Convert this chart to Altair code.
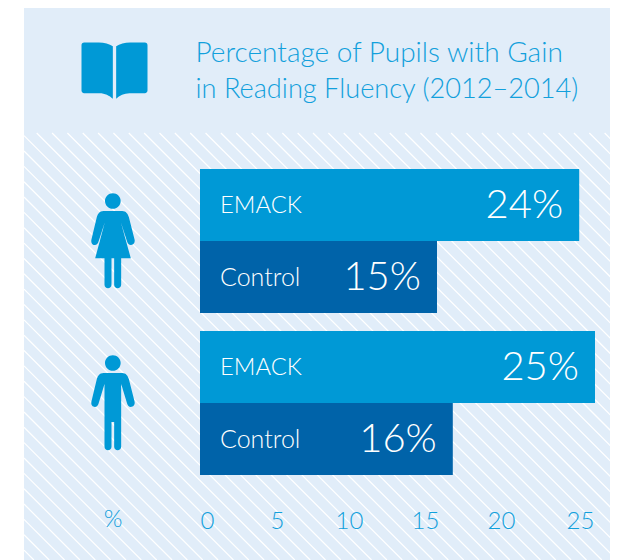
import re
import altair as alt
import pandas as pd

# ---- chart values ----
groups = ["Female", "Male"]
programs = ["EMACK", "Control"]
row_group = ["Female", "Female", "Male", "Male"]
row_program = ["EMACK", "Control", "EMACK", "Control"]
row_value = [24, 15, 25, 16]
row_label = ["24%", "15%", "25%", "16%"]
bar_colors = ["#0099d6", "#0063a9"]
tick_values = [0, 5, 10, 15, 20, 25]
title_lines = ["Percentage of Pupils with Gain", "in Reading Fluency (2012\u20132014)"]

BG = "#e1edf9"
BLUE = "#0099d6"
TEXT_BLUE = "#12a0dc"
FONT = "Lato"
W, H = 602, 552

rows = pd.DataFrame({"group": row_group, "program": row_program,
                     "value": row_value, "label": row_label})
one = pd.DataFrame({"a": [0]})


def unit_path(path, cx, cy, k):
    """Rescale an SVG path drawn in picture units to Vega's -1..1 symbol box."""
    toks = re.findall(r"[MLCQZ]|-?\d+\.?\d*", path)
    out, is_x = [], True
    for t in toks:
        if t in "MLCQZ":
            out.append(t)
            is_x = True
        else:
            v = (float(t) - cx) / k if is_x else (float(t) - cy) / k
            out.append(f"{v:.4f}")
            is_x = not is_x
    return " ".join(out)


def circle(cx, cy, r):
    m = 0.5523 * r
    return (f"M{cx-r},{cy} C{cx-r},{cy-m} {cx-m},{cy-r} {cx},{cy-r} "
            f"C{cx+m},{cy-r} {cx+r},{cy-m} {cx+r},{cy} "
            f"C{cx+r},{cy+m} {cx+m},{cy+r} {cx},{cy+r} "
            f"C{cx-m},{cy+r} {cx-r},{cy+m} {cx-r},{cy} Z ")


def leg(x0, x1, y0, y1):
    r = (x1 - x0) / 2
    return (f"M{x0},{y0} L{x1},{y0} L{x1},{y1-r} "
            f"C{x1},{y1+r*0.33} {x0},{y1+r*0.33} {x0},{y1-r} Z ")


# outlines are traced in 3x zoom pixels
woman = (
    circle(158, 63, 23.5)
    + "M130,93 L186,93 C198,93 203,102 206,111 L223,178 C226,190 218,195 212,195 "
      "C206,195 203,190 201,185 L182,127 L212,235 L105,235 L134,127 L115,185 "
      "C113,190 110,195 104,195 C98,195 91,190 94,178 L110,111 C113,102 118,93 130,93 Z "
    + leg(133, 154, 233, 325) + leg(162, 183, 233, 325)
)
man = (
    circle(158, 63, 23.5)
    + "M130,93 L186,93 C198,93 203,102 206,111 L223,178 C226,190 218,195 212,195 "
      "C206,195 203,190 201,185 L183,126 L183,240 L133,240 L133,126 L115,185 "
      "C113,190 110,195 104,195 C98,195 91,190 94,178 L110,111 C113,102 118,93 130,93 Z "
    + leg(133, 154, 232, 325) + leg(162, 183, 232, 325)
)
book = (
    "M252,127 L296,127 C312,127 328,132 338,138 L338,296 C328,286 314,279 298,279 "
    "L252,279 C247,279 244,275 244,271 L244,135 C244,130 247,127 252,127 Z "
    "M348,138 C358,132 374,127 390,127 L434,127 C439,127 442,130 442,135 L442,271 "
    "C442,275 439,279 434,279 L388,279 C372,279 358,286 348,296 Z"
)

# hatch: white diagonal strokes over the lower panel
TOP = 125
LEFT = 16
SLOPE = 1.0
hatch = []
for k in range(-35, 42):
    c = 28.7 + 15.35 * k
    x0, y0 = c, TOP
    if x0 < LEFT:
        y0 = TOP + (LEFT - x0) * SLOPE
        x0 = LEFT
    if y0 > H:
        continue
    hatch.append({"x": x0, "y": y0, "x2": c + (H - TOP) / SLOPE, "y2": H})
hatch = pd.DataFrame(hatch)

xs = alt.Scale(domain=[0, 25], range=[192, 587])
ys = alt.Scale(domain=groups, range=[161, 467], paddingInner=0.111, paddingOuter=0)
yo = alt.Scale(domain=programs, paddingInner=0, paddingOuter=0)
X = alt.X("value:Q", scale=xs, axis=None)
Y = alt.Y("group:N", scale=ys, axis=None)
YO = alt.YOffset("program:N", scale=yo)

panel = alt.Chart(one).mark_rect(color=BG).encode(
    x=alt.value(LEFT), x2=alt.value(W), y=alt.value(0), y2=alt.value(H))

lines = alt.Chart(hatch).mark_rule(color="white", strokeWidth=1.25).encode(
    x=alt.X("x:Q", scale=None), x2="x2:Q",
    y=alt.Y("y:Q", scale=None), y2="y2:Q")

bars = alt.Chart(rows).mark_bar().encode(
    x=X, x2=alt.datum(0), y=Y, yOffset=YO,
    color=alt.Color("program:N", legend=None,
                    scale=alt.Scale(domain=programs, range=bar_colors)))

names = alt.Chart(rows).mark_text(
    align="left", baseline="middle", dx=20, dy=1, color="white",
    font=FONT, fontWeight=300).encode(
    x=alt.datum(0, scale=xs, axis=None), y=Y, yOffset=YO, text="program:N",
    size=alt.Size("program:N", legend=None,
                  scale=alt.Scale(domain=programs, range=[23.8, 25])))

values = alt.Chart(rows).mark_text(
    align="right", baseline="middle", dx=-16, dy=1, color="white",
    font=FONT, fontWeight=300, fontSize=40).encode(
    x=X, y=Y, yOffset=YO, text="label:N")

ticks = alt.Chart(pd.DataFrame({"tick": tick_values})).mark_point(opacity=0).encode(
    x=alt.X("tick:Q",
            scale=alt.Scale(domain=tick_values, range=[199, 269, 341, 417, 493, 572]),
            axis=alt.Axis(values=tick_values, domain=False, ticks=False, grid=False,
                          title=None, labelFont=FONT, labelFontWeight=300,
                          labelFontSize=24, labelColor=TEXT_BLUE, labelPadding=0,
                          labelOverlap=False, labelFlush=False, offset=-51, zindex=1)))

percent = alt.Chart(one).mark_text(
    text="%", color=TEXT_BLUE, font=FONT, fontWeight=300, fontSize=24).encode(
    x=alt.value(105), y=alt.value(512))

title = alt.Chart(pd.DataFrame({"t": title_lines})).mark_text(
    align="left", baseline="middle", color=TEXT_BLUE, font=FONT,
    fontWeight=300).encode(
    x=alt.value(187.5),
    y=alt.Y("t:N", sort=title_lines, axis=None,
            scale=alt.Scale(domain=title_lines, range=[28, 100], paddingInner=0, paddingOuter=0)),
    text="t:N",
    size=alt.Size("t:N", legend=None,
                  scale=alt.Scale(domain=title_lines, range=[28, 27.2])))


def icon(path, cx, cy, k, px, py, side):
    return alt.Chart(one).mark_point(
        shape=unit_path(path, cx, cy, k), filled=True, opacity=1,
        color=BLUE, strokeWidth=0, size=side ** 2).encode(
        x=alt.value(px), y=alt.value(py))


icons = [
    icon(woman, 158.5, 183, 144, 105, 233, 96),
    icon(man, 158.5, 183, 144, 105, 395, 96),
    icon(book, 343, 211, 99, 106.5, 62.5, 66),
]

chart = alt.layer(panel, lines, bars, names, values, ticks, percent, title, *icons
    ).resolve_scale(x="independent", y="independent", size="independent"
    ).properties(width=W, height=H, padding=0, background="white",
                 autosize=alt.AutoSizeParams(type="none")
    ).configure_view(stroke=None)

chart.save("out.html", embed_options={"renderer": "svg", "actions": False})
